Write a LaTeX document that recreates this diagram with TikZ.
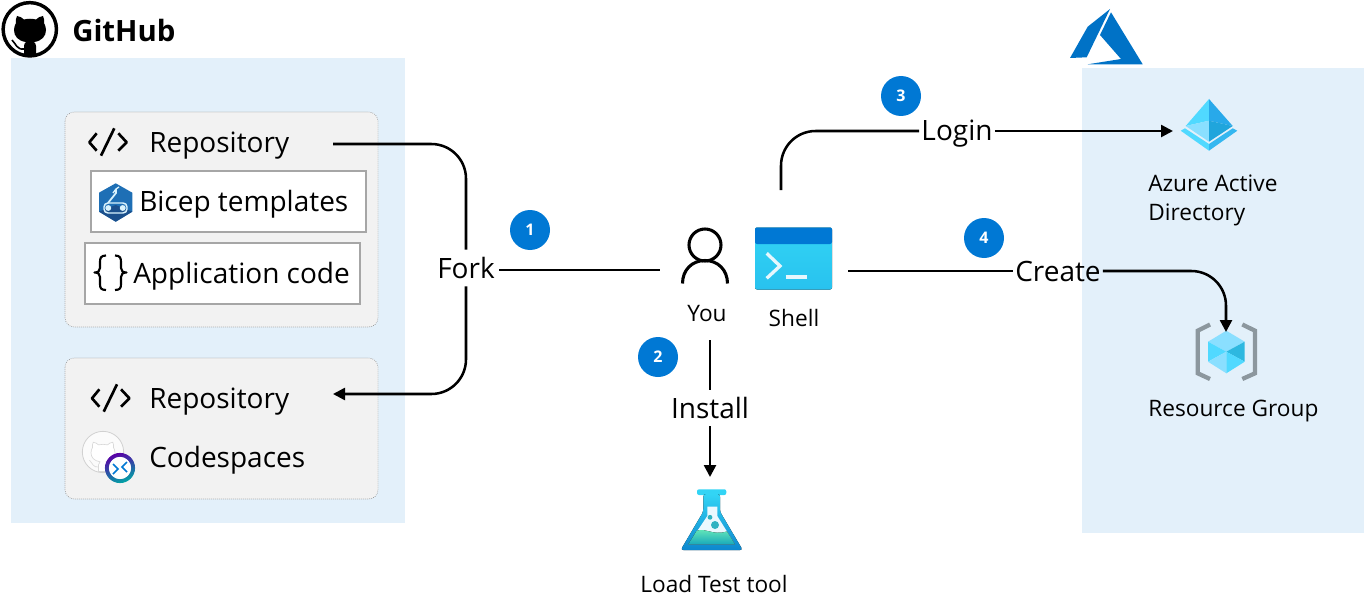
\documentclass[tikz,border=0pt]{standalone}
\usepackage{fontspec}
\setmainfont{Open Sans}
\usetikzlibrary{arrows.meta,calc}
\definecolor{panelblue}{HTML}{E3F0FA}
\definecolor{greybox}{HTML}{F2F2F2}
\definecolor{azblue}{HTML}{0078D4}
\definecolor{logoblue}{HTML}{0072C6}
\definecolor{hexblue}{HTML}{1E6FB5}
\definecolor{hexdark}{HTML}{1B4F8C}
\definecolor{cyanA}{HTML}{32D4F5}
\definecolor{cyanB}{HTML}{50D9FF}
\definecolor{cyanC}{HTML}{8ADFFF}
\definecolor{cyanD}{HTML}{2DB8E0}
\definecolor{bracketgrey}{HTML}{8C979E}
\newcommand{\catpath}{(24,55) -- (24,46) .. controls (24,44) and (25,43) .. (26,42) .. controls (18,41) and (14,36) .. (14,30) .. controls (14,27) and (15,25) .. (16,23) .. controls (15.5,21) and (16,18) .. (17,16) .. controls (20,16) and (22,18) .. (24,19.5) .. controls (28,18.5) and (32,18.5) .. (36,19.5) .. controls (38,18) and (40,16) .. (43,16) .. controls (44,18) and (44.5,21) .. (44,23) .. controls (45,25) and (46,27) .. (46,30) .. controls (46,36) and (42,41) .. (34,42) .. controls (35,43) and (36,44) .. (36,46) -- (36,55) -- cycle}
\newcommand{\tailpath}{(24,49) .. controls (17,50) and (16,44) .. (12,40)}
\newcommand{\codeicon}{%
  \draw[iconline] (96.7,133.3) -- (89.3,142.3) -- (96.7,150.7);
  \draw[iconline] (114.3,128.3) -- (101,155.7);
  \draw[iconline] (118.3,133.3) -- (126.7,142.3) -- (118.3,150.7);}
\tikzset{
  conn/.style={line width=1.9pt,black},
  tipconn/.style={conn,-{Triangle[length=9pt,width=9pt]}},
  curved/.style={rounded corners=26pt},
  biglabel/.style={font=\fontsize{21}{25}\selectfont,inner sep=0pt,inner xsep=1.5pt,text height=15pt,text depth=0pt,minimum height=27pt},
  bigtext/.style={font=\fontsize{21}{25}\selectfont,anchor=base west,inner sep=0pt},
  smalltext/.style={font=\fontsize{17}{21.75}\selectfont,inner sep=0pt},
  badge/.style={circle,fill=azblue,text=white,minimum size=30pt,inner sep=0pt,font=\fontsize{12}{14}\selectfont\bfseries},
  panel/.style={fill=panelblue,draw=none},
  greyframe/.style={fill=greybox,draw=black!45,densely dotted,line width=.5pt,rounded corners=7pt},
  whiteframe/.style={fill=white,draw=black!35,line width=.9pt},
  iconline/.style={line width=2pt,black,line join=round},
}
\begin{document}
\begin{tikzpicture}[x=0.75pt,y=-0.75pt]
\useasboundingbox (0,0) rectangle (1364,610);
% panels
\path[panel] (11,58) rectangle (405,523);
\path[panel] (1082,68) rectangle (1364,533);
\path[greyframe] (65,112) rectangle (378,327);
\path[greyframe] (65,358) rectangle (378,499);
\path[whiteframe] (91,171) rectangle (366,232);
\path[whiteframe] (85,243) rectangle (360,304);
% GitHub logo
\draw[line width=2.6pt,black] (29.8,29.3) circle (20pt);
\fill[black] \catpath;
\draw[line width=1.2pt,black] \tailpath;
\node[anchor=base west,inner sep=0pt,font=\fontsize{22}{26}\selectfont\bfseries] (github) at (72,42) {GitHub};
% Azure logo
\fill[logoblue] (1070,58) -- (1087.7,26.7) -- (1110,9) -- (1086.7,57.3) -- cycle;
\fill[logoblue] (1111,12.3) -- (1142.7,64.3) -- (1087.7,64.3) -- (1121,59) -- (1100,35) -- cycle;
% code icons
\codeicon
\begin{scope}[shift={(2.7,256)}]\codeicon\end{scope}
% bicep icon
\fill[hexblue] (115.7,183.3) -- (132.3,192.7) -- (132.3,211.7) -- (115.7,221.7) -- (99,211.7) -- (99,192.7) -- cycle;
\fill[hexdark] (99,211.7) -- (115.7,205) -- (132.3,211.7) -- (115.7,221.7) -- cycle;
\draw[white!85!cyan,line width=1.1pt,rounded corners=3pt] (104,203) rectangle (127,213);
\fill[white!85!cyan] (108.3,208) circle (2.2pt) (122.7,208) circle (2.2pt);
\draw[white!85!cyan,line width=1.3pt] (108,203) -- (116,193) -- (116,189);
\draw[white!85!cyan,line width=1pt] (113,193) -- (116,189) -- (119,187);
% braces
\draw[iconline,line width=1.6pt] (106,255.5) .. controls (101,255.5) and (100,258) .. (100,262) -- (100,268) .. controls (100,271) and (98,272.5) .. (94.5,272.5) .. controls (98,272.5) and (100,274) .. (100,277) -- (100,284) .. controls (100,288) and (101,290) .. (106,290);
\draw[iconline,line width=1.6pt] (115,255.5) .. controls (120,255.5) and (121,258) .. (121,262) -- (121,268) .. controls (121,271) and (123,272.5) .. (126.5,272.5) .. controls (123,272.5) and (121,274) .. (121,277) -- (121,284) .. controls (121,288) and (120,290) .. (115,290);
% codespaces icon
\draw[line width=.6pt,black!18,fill=white!70!greybox] (103,452) circle (15.5pt);
\begin{scope}[shift={(80.5,430.25)},scale=.75]
\fill[white] \catpath;
\draw[black!15,line width=.5pt] \catpath;
\draw[black!15,line width=.5pt] \tailpath;
\end{scope}
\shade[even odd rule,left color=violet!70!blue,right color=teal!70!cyan,shading angle=20] (120,468) circle (11.3pt) (120,468) circle (8.3pt);
\fill[white] (120,468) circle (8.3pt);
\draw[azblue,line width=1.2pt] (113,464) -- (118,469) -- (113,474);
\draw[azblue,line width=1.2pt] (127,462) -- (122,467) -- (127,472);
% person
\draw[line width=2.3pt,black] (705,245) circle (12pt);
\draw[line width=2.3pt,black] (682.5,283.5) .. controls (682.5,270) and (692,260.5) .. (705,260.5) .. controls (718,260.5) and (727.5,270) .. (727.5,283.5);
% shell
\fill[top color=cyanA,bottom color=cyanA!80!azblue,rounded corners=1.5pt] (755,227.5) rectangle (832,289.5);
\fill[azblue,rounded corners=1.5pt] (755,227.5) rectangle (832,244);
\draw[line width=2.5pt,white!90!cyan] (766.7,253.3) -- (780,266) -- (766.7,278.3);
\draw[line width=2.7pt,white!90!cyan] (785.7,276.7) -- (806.7,276.7);
% flask
\fill[cyanA,rounded corners=1.5pt] (697,489.3) rectangle (726.3,495);
\fill[top color=cyanA,bottom color=logoblue!70!cyanD,rounded corners=2pt] (703.3,494) -- (720,494) -- (720,511.7) -- (742.7,550) -- (680.7,550) -- (703.3,511.7) -- cycle;
\fill[white!92!cyan] (707.3,506.7) -- (717.3,506.7) -- (717.3,516) -- (735,544.3) -- (688.3,544.3) -- (707.3,516) -- cycle;
\fill[top color=cyanB!60!green!70!white,bottom color=teal!50!cyanA] (696.5,531) .. controls (704,527) and (713,536) .. (727,531.5) -- (735,544.3) -- (688.3,544.3) -- cycle;
\fill[teal!50!cyanA!90!white] (715,525) circle (3pt) (710,517.3) circle (1.8pt);
% AAD icon
\fill[cyanB] (1209,99) -- (1185.7,126) -- (1209,120.7) -- cycle;
\fill[azblue!50!cyanB] (1209,99) -- (1232.7,126) -- (1209,120.7) -- cycle;
\fill[cyanC] (1185.7,126) -- (1209,120.7) -- (1209,141.7) -- cycle;
\fill[azblue!30!cyanD] (1232.7,126) -- (1209,120.7) -- (1209,141.7) -- cycle;
\fill[cyanB] (1180.7,130.7) -- (1185,128.3) -- (1209,144) -- (1209,150.7) -- cycle;
\fill[azblue!35!cyanB] (1237.3,130.7) -- (1232.7,128.3) -- (1209,144) -- (1209,150.7) -- cycle;
% RG icon
\draw[bracketgrey,line width=3.2pt] (1210,324.5) -- (1197.7,330.7) -- (1197.7,373.3) -- (1210,379);
\draw[bracketgrey,line width=3.2pt] (1242.3,324.5) -- (1255,330.7) -- (1255,373.3) -- (1242.3,379);
\fill[cyanC] (1226.3,330.7) -- (1244.7,341.7) -- (1226.3,351.7) -- (1208,341.7) -- cycle;
\fill[cyanB] (1208,341.7) -- (1226.3,351.7) -- (1208,361.7) -- cycle;
\fill[cyanD] (1244.7,341.7) -- (1226.3,351.7) -- (1244.7,361.7) -- cycle;
\fill[cyanC] (1208,361.7) -- (1226.3,351.7) -- (1226.3,373.3) -- cycle;
\fill[cyanB] (1244.7,361.7) -- (1226.3,351.7) -- (1226.3,373.3) -- cycle;
% texts
\node[bigtext] (repoA) at (149,152) {Repository};
\node[bigtext] (bicep) at (139,211) {Bicep templates};
\node[bigtext] (appcode) at (133,283) {Application code};
\node[bigtext] (repoB) at (149,408) {Repository};
\node[bigtext] (codespaces) at (149,467) {Codespaces};
\node[smalltext,anchor=base] (you) at (707,321.5) {You};
\node[smalltext,anchor=base] (shell) at (794,326) {Shell};
\node[smalltext,anchor=base] (loadtest) at (714,592) {Load Test tool};
\node[smalltext,anchor=base west,align=left] (aad) at (1148,220) {Azure Active\\Directory};
\node[smalltext,anchor=base west] (rg) at (1148,416) {Resource Group};
% badges
\node[badge] (b1) at (530,230) {1};
\node[badge] (b2) at (658,357) {2};
\node[badge] (b3) at (901,96) {3};
\node[badge] (b4) at (984,238) {4};
% connector labels
\node[biglabel] (fork) at (466,268) {Fork};
\node[biglabel] (install) at (710,408) {Install};
\node[biglabel] (login) at (957,131) {Login};
\node[biglabel] (create) at (1058,271) {Create};
% free ends
\coordinate (forkStart) at (333,144);
\coordinate (forkEnd) at (333,394);
\coordinate (forkOut) at ($(fork.east)+(2,2)$);
\coordinate (youIn) at (660,270);
\coordinate (youOut) at (710,340);
\coordinate (toolIn) at (710,477);
\coordinate (shellTop) at (781,190);
\coordinate (aadIn) at (1173,131);
\coordinate (shellOut) at (848,271);
\coordinate (rgIn) at (1226,332);
% connectors
\draw[conn,curved] (forkStart) -| (fork.north);
\draw[tipconn,curved] (fork.south) |- (forkEnd);
\draw[conn] (forkOut) -- (youIn);
\draw[conn] (youOut) -- (install.north);
\draw[tipconn] (install.south) -- (toolIn);
\draw[conn,curved] (shellTop) |- (login.west);
\draw[tipconn] (login.east) -- (aadIn);
\draw[conn] (shellOut) -- (create.west);
\draw[tipconn,curved] (create.east) -| (rgIn);
\end{tikzpicture}
\end{document}
